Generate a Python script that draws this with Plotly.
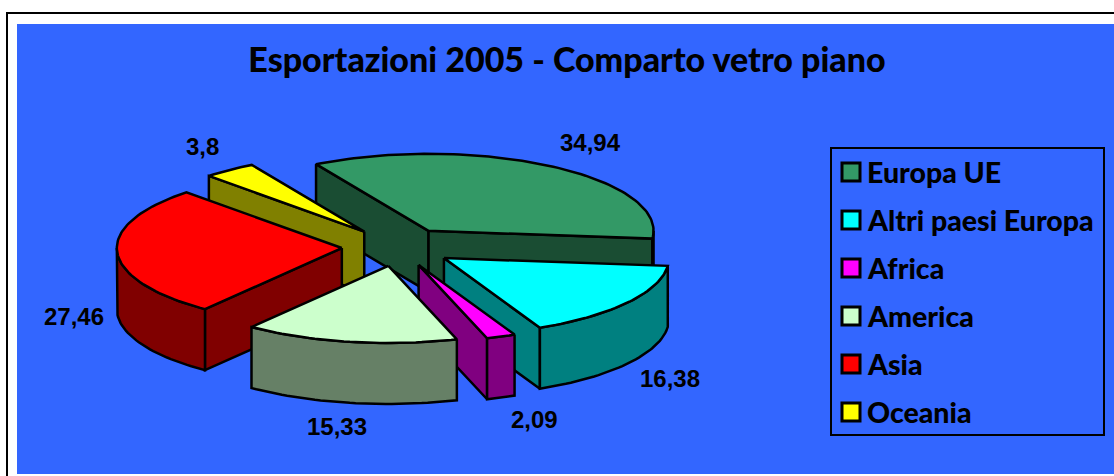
import math
import plotly.graph_objects as go

# ---- data ----
categories = ["Europa UE", "Altri paesi Europa", "Africa", "America", "Asia", "Oceania"]
values = [34.94, 16.38, 2.09, 15.33, 27.46, 3.80]
value_labels = ["34,94", "16,38", "2,09", "15,33", "27,46", "3,8"]
title_text = "Esportazioni 2005 - Comparto vetro piano"

# ---- styles ----
top_colors = ["#339966", "#00FFFF", "#FF00FF", "#CCFFCC", "#FF0000", "#FFFF00"]
wall_colors = ["#1A4D33", "#008080", "#800080", "#668066", "#800000", "#808000"]
BLUE = "#3366FF"

# ---- pie projection (oblique view of an exploded 3-D pie) ----
W, H = 1114, 476
CX, CY = 398, 247       # centre of the pie
RX, RY = 225, 77        # ellipse radii of the top face
DEPTH = 61              # pie thickness
EXPLODE = 0.25          # explosion, fraction of the radius
FIRST_ANGLE = 120.0     # where the first slice starts (degrees, maths convention)
draw_order = [0, 5, 4, 1, 2, 3]   # painter's order, back to front
label_shift = [(40, -24), (42, 76), (33, 83), (-13, 85), (-43, 64), (-27, -23)]

# legend box layout
LEG_L, LEG_T, LEG_R, LEG_B = 831, 148, 1104, 435
SWATCH_X, TEXT_X, FIRST_Y, STEP_Y = 851, 865, 172, 48

total = sum(values)
spans = []
a = FIRST_ANGLE
for v in values:
    spans.append((a, a - v / total * 360))
    a -= v / total * 360


def arc(ax, ay, t0, t1):
    n = max(2, int(abs(t1 - t0) / 1.5) + 1)
    ts = [t0 + (t1 - t0) * i / (n - 1) for i in range(n)]
    return [(ax + RX * math.cos(math.radians(t)), ay - RY * math.sin(math.radians(t))) for t in ts]


def poly(fig, pts, color, name):
    xs = [p[0] for p in pts] + [pts[0][0]]
    ys = [p[1] for p in pts] + [pts[0][1]]
    fig.add_trace(go.Scatter(x=xs, y=ys, mode="lines", fill="toself", fillcolor=color,
                             line=dict(color="black", width=2.5), name=name,
                             hoverinfo="skip", showlegend=False))


def wall(fig, p, q, color, name):
    poly(fig, [p, q, (q[0], q[1] + DEPTH), (p[0], p[1] + DEPTH)], color, name)


fig = go.Figure()
annotations = []

for i in draw_order:
    t0, t1 = spans[i]
    mid = math.radians((t0 + t1) / 2)
    ax = CX + RX * EXPLODE * math.cos(mid)
    ay = CY - RY * EXPLODE * math.sin(mid)
    apex = (ax, ay)
    rim = arc(ax, ay, t0, t1)
    name = categories[i]

    # radial walls that face the viewer
    if math.cos(math.radians(t0)) < 0:
        wall(fig, apex, rim[0], wall_colors[i], name)
    if math.cos(math.radians(t1)) > 0:
        wall(fig, apex, rim[-1], wall_colors[i], name)

    # outer wall: only the front half of the rim (angles between -180 and 0)
    lo, hi = max(t1, -180), min(t0, 0)
    if hi > lo:
        front = arc(ax, ay, hi, lo)
        poly(fig, front + [(x, y + DEPTH) for x, y in reversed(front)], wall_colors[i], name)

    # top face
    poly(fig, [apex] + rim, top_colors[i], name)

    # data label
    mx = ax + RX * math.cos(mid)
    my = ay - RY * math.sin(mid)
    annotations.append(dict(x=mx, y=my, xref="x", yref="y", text=value_labels[i], showarrow=False,
                            xshift=label_shift[i][0], yshift=-label_shift[i][1],
                            font=dict(family="Liberation Sans", size=24, color="black", weight=700)))

# legend: swatches as markers, names as text
fig.add_trace(go.Scatter(
    x=[SWATCH_X] * len(categories),
    y=[FIRST_Y + STEP_Y * i for i in range(len(categories))],
    mode="markers", hoverinfo="skip", showlegend=False,
    marker=dict(symbol="square", size=18, color=top_colors, line=dict(color="black", width=3)),
))
for i, c in enumerate(categories):
    annotations.append(dict(x=TEXT_X, y=FIRST_Y + STEP_Y * i, xref="x", yref="y", xanchor="left",
                            text=c, showarrow=False,
                            font=dict(family="Lato", size=28.5, color="black", weight=900)))


def px(x):
    return (x - 17) / (W - 17)


def py(y):
    return (474 - y) / (474 - 24)


shapes = [
    dict(type="line", xref="paper", yref="paper", x0=px(7), x1=px(W + 2), y0=py(13), y1=py(13),
         line=dict(color="black", width=2)),
    dict(type="line", xref="paper", yref="paper", x0=px(7), x1=px(7), y0=py(12), y1=py(H + 2),
         line=dict(color="black", width=2)),
    dict(type="rect", xref="x", yref="y", x0=LEG_L, x1=LEG_R, y0=LEG_T, y1=LEG_B, layer="below",
         line=dict(color="black", width=2)),
]

fig.update_layout(
    width=W, height=H, margin=dict(l=17, r=0, t=24, b=2, autoexpand=False),
    paper_bgcolor="white", plot_bgcolor=BLUE,
    xaxis=dict(range=[17, W], visible=False, fixedrange=True),
    yaxis=dict(range=[474, 24], visible=False, fixedrange=True),
    title=dict(text=title_text, x=567 / W, xanchor="center", y=1 - 60 / H, yanchor="middle",
               font=dict(family="Lato", size=34, color="black", weight=900)),
    showlegend=False,
    annotations=annotations, shapes=shapes,
)

fig.write_html("out.html", config=dict(displayModeBar=False),
               post_script="document.body.style.margin='0';document.body.style.overflow='hidden';")
